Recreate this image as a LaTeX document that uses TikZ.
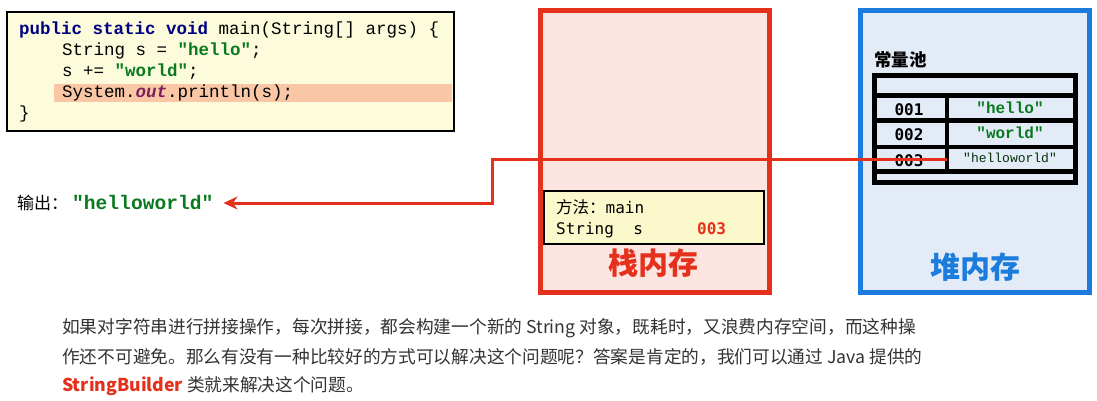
\documentclass[tikz,border=0pt]{standalone}
\usepackage{fontspec}
\setmainfont{Liberation Serif}
\setmonofont{Liberation Mono}
\newfontfamily\cjk{Noto Sans CJK SC}
\newfontfamily\conmono{DejaVu Sans Mono}
\usetikzlibrary{arrows.meta,positioning}

\definecolor{codebg}{HTML}{FCFCDC}
\definecolor{hilite}{HTML}{F9C6A6}
\definecolor{kwblue}{HTML}{000080}
\definecolor{strgreen}{HTML}{0A7A1E}
\definecolor{outpurple}{HTML}{7A1F5A}
\definecolor{stackred}{HTML}{E5301C}
\definecolor{stackbg}{HTML}{FCE4E0}
\definecolor{heapblue}{HTML}{1C7CDE}
\definecolor{heapbg}{HTML}{E3ECF6}
\definecolor{methodbg}{HTML}{FBF8CC}
\definecolor{bodytext}{HTML}{333333}

\tikzset{
  codeline/.style={anchor=base west,inner sep=0pt,font=\ttfamily\fontsize{17.5}{20}\selectfont},
  memlabel/.style={inner sep=0pt,font=\cjk\bfseries\fontsize{30}{32}\selectfont},
  cellnum/.style={inner sep=0pt,font=\conmono\bfseries\fontsize{16}{18}\selectfont},
  cellstr/.style={inner sep=0pt,font=\ttfamily\bfseries\fontsize{16}{18}\selectfont,text=strgreen},
  bodyline/.style={anchor=west,inner sep=0pt,font=\cjk\fontsize{17.7}{20}\selectfont,text=bodytext},
  pointer/.style={draw=stackred,line width=3pt},
}

\begin{document}
\begin{tikzpicture}[x=1pt,y=-1pt]
\useasboundingbox (0,0) rectangle (1097,400);
\fill[white] (0,0) rectangle (1097,400);

% code
\draw[fill=codebg,line width=2pt] (7,12) rectangle (454,131);
\fill[hilite] (54,84) rectangle (452,102);
\node[codeline] (c1) at (19,34) {\textbf{\color{kwblue}public static void} main(String[] args) \{};
\node[codeline] (c2) at (62,55) {String s = \textbf{\color{strgreen}"hello"};};
\node[codeline] (c3) at (62,76) {s += \textbf{\color{strgreen}"world"};};
\node[codeline] (c4) at (62,97) {System.\textbf{\textit{\color{outpurple}out}}.println(s);};
\node[codeline] (c5) at (19,118) {\}};

% output
\node[anchor=west,inner sep=0pt] (out) at (17,203)
  {{\cjk\fontsize{17}{18}\selectfont 输出：}\hspace{4pt}\ttfamily\bfseries\fontsize{19.6}{20}\selectfont\color{strgreen}"helloworld"};

% stack
\draw[stackred,fill=stackbg,line width=5pt] (540,10.5) rectangle (769.5,292.5);
\draw[fill=methodbg,line width=2pt] (544,191) rectangle (764,244);
\node[anchor=base west,inner sep=0pt] (meth) at (556,213)
  {{\cjk\fontsize{16.5}{18}\selectfont 方法：}\conmono\fontsize{16}{18}\selectfont main};
\node[anchor=base west,inner sep=0pt,font=\conmono\fontsize{16}{18}\selectfont] (var) at (556,234) {String\ \ s};
\node[anchor=base west,inner sep=0pt,font=\conmono\bfseries\fontsize{16}{18}\selectfont,text=stackred] (addr) at (697,234) {003};
\node[memlabel,text=stackred] (stack) at (653,263) {栈内存};

% heap
\draw[heapblue,fill=heapbg,line width=5pt] (860.5,10.5) rectangle (1089.5,292.5);
\node[anchor=west,inner sep=0pt,font=\cjk\bfseries\fontsize{17.5}{19}\selectfont] (pool) at (874,60) {常量池};
\draw[line width=5pt] (874.5,75.5) rectangle (1075,182.5);
\foreach \y in {95.5,120.5,147,171.5}
  \draw[line width=4.5pt] (874.5,\y) -- (1075,\y);
\draw[line width=4pt] (947,95.5) -- (947,171.5);
\node[cellnum] (n1) at (909,110) {001};
\node[cellnum] (n2) at (909,135) {002};
\node[cellnum] (n3) at (909,161) {003};
\node[cellstr] (s1) at (1010,108) {"hello"};
\node[cellstr] (s2) at (1010,133) {"world"};
\node[inner sep=0pt,font=\ttfamily\fontsize{13}{15}\selectfont,text=strgreen!40!black] (s3) at (1010,158) {"helloworld"};
\node[memlabel,text=heapblue] (heap) at (975,267) {堆内存};
\coordinate (ptr) at (947,159);
\coordinate (bend) at (492,159);

% pointer
\draw[pointer,-{Stealth[length=14pt,width=13pt]}] (ptr) -- (bend) |- ([xshift=10pt]out.east);

% text
\node[bodyline] (t1) at (62,328) {如果对字符串进行拼接操作，每次拼接，都会构建一个新的 String 对象，既耗时，又浪费内存空间，而这种操};
\node[bodyline] (t2) at (62,357) {作还不可避免。那么有没有一种比较好的方式可以解决这个问题呢？答案是肯定的，我们可以通过 Java 提供的};
\node[bodyline] (t3) at (62,386) {{\bfseries\color{stackred}StringBuilder} 类就来解决这个问题。};
\end{tikzpicture}
\end{document}
